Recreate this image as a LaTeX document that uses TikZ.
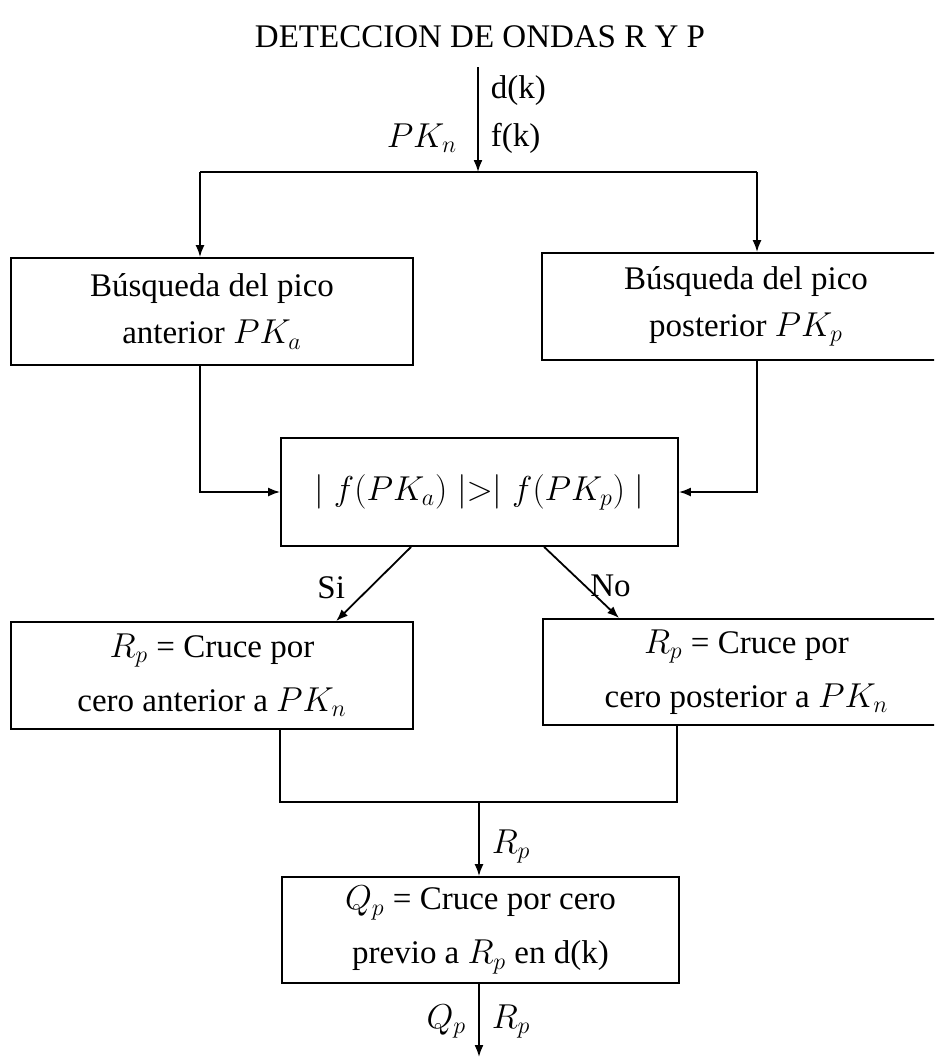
\documentclass[tikz,border=0pt]{standalone}
\usepackage{fontspec}
\setmainfont{Liberation Serif}
\usetikzlibrary{arrows, arrows.meta, calc, positioning}
\tikzset{
    procBox/.style={draw, line width=0.9pt, align=center, inner sep=0pt, font=\fontsize{16.5}{23.5}\selectfont},
    procBoxTall/.style={procBox, font=\fontsize{16.5}{27}\selectfont},
    flowLine/.style={line width=0.9pt},
    flowEdge/.style={->, >={Latex[length=6pt, width=4.5pt]}, line width=0.9pt},
    edgeLabel/.style={font=\fontsize{16.5}{20}\selectfont, inner sep=1pt},
}

\begin{document}
\begin{tikzpicture}[x=0.5pt, y=-0.5pt]
        \useasboundingbox (0,0) rectangle (934,1060);
        \clip (0,0) rectangle (934,1060);

        \node[edgeLabel] (titulo) at (480,37) {DETECCION DE ONDAS R Y P};

        \node[procBox, minimum width=201pt, minimum height=53.5pt] (busqA) at (212,311.5) {Búsqueda del pico\\anterior $PK_a$};
        \node[procBox, minimum width=204pt, minimum height=53.5pt] (busqP) at (746,306.5) {Búsqueda del pico\\posterior $PK_p$};
        \node[procBox, minimum width=198.5pt, minimum height=54pt] (compara) at (479.5,492) {$\mid f(PK_a)\mid>\mid f(PK_p)\mid$};
        \node[procBoxTall, minimum width=201pt, minimum height=53.5pt] (ceroA) at (212,675.5) {$R_p$ = Cruce por\\cero anterior a $PK_n$};
        \node[procBoxTall, minimum width=203.5pt, minimum height=53pt] (ceroP) at (746.5,672) {$R_p$ = Cruce por\\cero posterior a $PK_n$};
        \node[procBoxTall, minimum width=198.5pt, minimum height=53pt] (cruceQ) at (480.5,930) {$Q_p$ = Cruce por cero\\previo a $R_p$ en d(k)};

        \coordinate (entrada) at (478,67);
        \coordinate (split) at (478,172);
        \coordinate (splitA) at (200,172);
        \coordinate (splitP) at (757,172);
        \coordinate (merge) at (479,802);
        \coordinate (salida) at (479,1057);

        % entrada y bifurcacion
        \draw[flowEdge] (entrada) -- node[edgeLabel, pos=0.22, right=5pt] (dk) {d(k)}
            node[edgeLabel, pos=0.68, right=5pt] (fk) {f(k)}
            node[edgeLabel, pos=0.68, left=9pt] (pkn) {$PK_n$} (split);
        \draw[flowLine] (splitA) -- (splitP);
        \draw[flowEdge] (splitA) -- (splitA |- busqA.north);
        \draw[flowEdge] (splitP) -- (splitP |- busqP.north);

        \draw[flowEdge] (splitA |- busqA.south) |- (compara.west);
        \draw[flowEdge] (splitP |- busqP.south) |- (compara.east);

        % decision
        \draw[flowEdge] ($(compara.south west)+(131,0)$) -- node[edgeLabel, pos=0.55, left=11pt] (si) {Si} ($(ceroA.north west)+(326,0)$);
        \draw[flowEdge] ($(compara.south west)+(264,0)$) -- node[edgeLabel, pos=0.55, right=1pt] (no) {No} ($(ceroP.north west)+(77,0)$);

        \draw[flowLine] ($(ceroA.south west)+(270,0)$) |- (merge) -| ($(ceroP.south west)+(135,0)$);
        \draw[flowEdge] (merge) -- node[edgeLabel, pos=0.6, right=5pt] (rpIn) {$R_p$} (merge |- cruceQ.north);
        \draw[flowEdge] (cruceQ.south -| salida) -- node[edgeLabel, pos=0.52, right=5pt] (rpOut) {$R_p$}
            node[edgeLabel, pos=0.52, left=5pt] (qpOut) {$Q_p$} (salida);

    \end{tikzpicture}
\end{document}
